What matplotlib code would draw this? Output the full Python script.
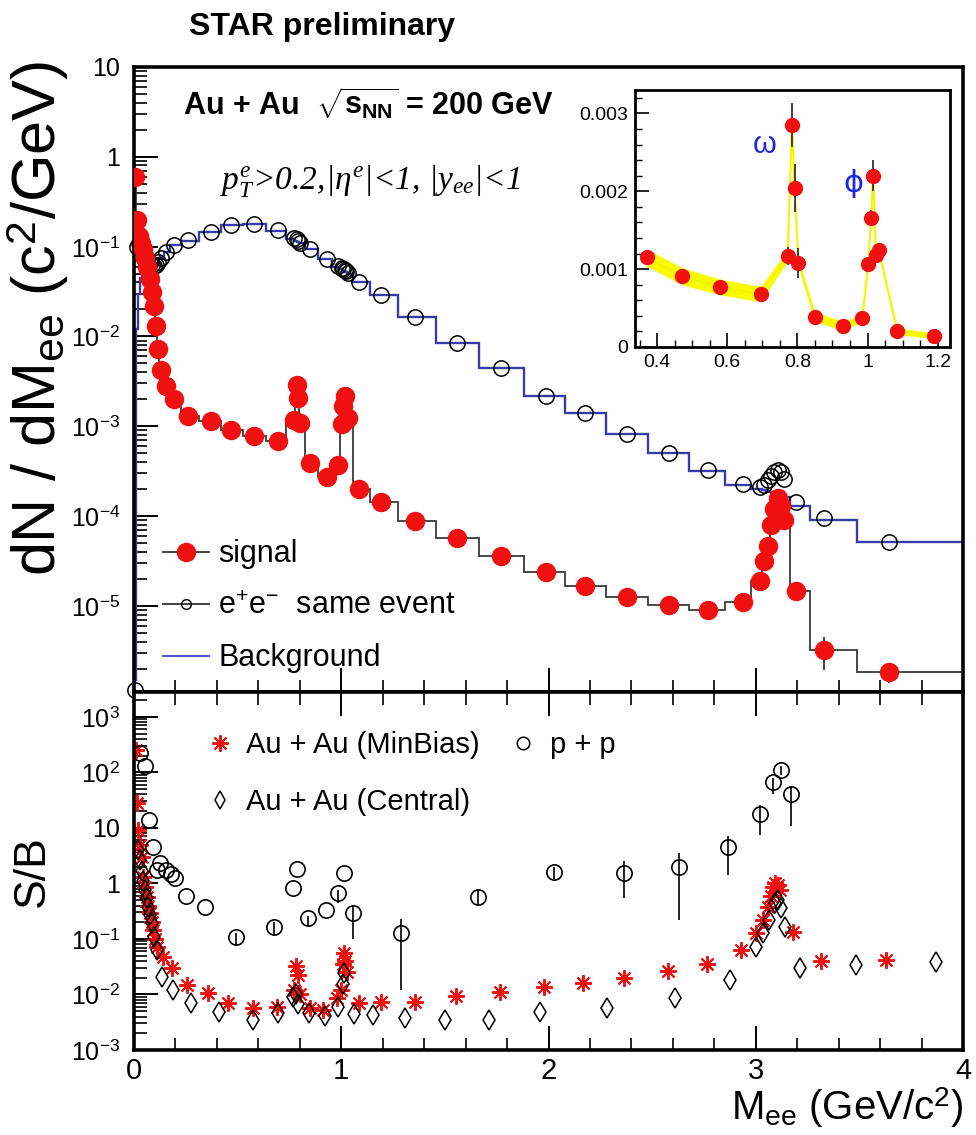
import matplotlib.pyplot as plt
import numpy as np
from matplotlib.lines import Line2D
from matplotlib.ticker import FuncFormatter, LogLocator, MultipleLocator, NullFormatter

plt.rcParams['font.family'] = ['Liberation Sans', 'DejaVu Sans']
plt.rcParams['mathtext.fontset'] = 'custom'
plt.rcParams['mathtext.rm'] = 'Liberation Sans'
plt.rcParams['mathtext.it'] = 'Liberation Serif:italic'
plt.rcParams['mathtext.bf'] = 'Liberation Sans:bold'

# --- dielectron mass spectrum (bin centres, GeV/c^2) ---
mass = [0.005, 0.015, 0.025, 0.035, 0.045, 0.055, 0.065, 0.075, 0.085, 0.095,
        0.105, 0.115, 0.13, 0.155, 0.195, 0.26, 0.37, 0.47, 0.58, 0.695,
        0.772, 0.785, 0.792, 0.803, 0.85, 0.93, 0.985, 1.002, 1.01, 1.016,
        1.024, 1.032, 1.085, 1.19, 1.355, 1.56, 1.773, 1.986, 2.175, 2.377,
        2.581, 2.771, 2.936, 3.02, 3.04, 3.06, 3.075, 3.09, 3.105, 3.12,
        3.135, 3.193, 3.33, 3.644]
signal = [0.6, 0.2, 0.13, 0.11, 0.095, 0.075, 0.06, 0.044, 0.031, 0.022,
          0.013, 0.0072, 0.0042, 0.0028, 0.002, 0.0013, 0.00115, 0.00091, 0.00077, 0.00068,
          0.00117, 0.00285, 0.00204, 0.00108, 0.00039, 0.00027, 0.00037, 0.00106, 0.00166, 0.0022,
          0.00118, 0.00124, 0.0002, 0.000145, 8.9e-5, 5.7e-5, 3.6e-5, 2.4e-5, 1.66e-5, 1.26e-5,
          1.03e-5, 9e-6, 1.1e-5, 1.9e-5, 3.2e-5, 4.7e-5, 8e-5, 1.2e-4, 1.6e-4, 1.3e-4,
          9e-5, 1.45e-5, 3.2e-6, 1.86e-6]
signal_relerr = [0.03, 0.03, 0.03, 0.03, 0.03, 0.03, 0.03, 0.03, 0.03, 0.03,
                 0.03, 0.03, 0.03, 0.03, 0.03, 0.03, 0.03, 0.03, 0.03, 0.03,
                 0.1, 0.1, 0.15, 0.18, 0.1, 0.12, 0.1, 0.08, 0.06, 0.09,
                 0.08, 0.06, 0.1, 0.1, 0.1, 0.1, 0.1, 0.1, 0.15, 0.15,
                 0.15, 0.15, 0.15, 0.1, 0.1, 0.1, 0.1, 0.1, 0.1, 0.1,
                 0.1, 0.15, 0.4, 0.25]
same_event = [1.15e-6, 0.1, 0.11, 0.1, 0.09, 0.08, 0.072, 0.066, 0.062, 0.061,
              0.063, 0.067, 0.075, 0.088, 0.104, 0.117, 0.146, 0.174, 0.18, 0.152,
              0.125, 0.12, 0.116, 0.11, 0.095, 0.073, 0.061, 0.058, 0.056, 0.055,
              0.053, 0.051, 0.04, 0.029, 0.0166, 0.0085, 0.0044, 0.0022, 0.0014, 0.00083,
              0.0005, 0.00033, 0.00023, 0.00021, 0.00022, 0.00025, 0.00028, 0.00031, 0.00033, 0.00031,
              0.00026, 0.000145, 9.5e-5, 5.1e-5]
background = [1.5e-6, 0.012, 0.03, 0.045, 0.052, 0.056, 0.058, 0.059, 0.06, 0.06,
              0.062, 0.066, 0.074, 0.087, 0.103, 0.116, 0.145, 0.173, 0.179, 0.151,
              0.123, 0.116, 0.113, 0.109, 0.095, 0.073, 0.06, 0.057, 0.054, 0.053,
              0.052, 0.05, 0.04, 0.029, 0.0165, 0.0085, 0.0044, 0.0022, 0.0014, 0.00082,
              0.0005, 0.00032, 0.00022, 0.0002, 0.000195, 0.00019, 0.000185, 0.00018, 0.000175, 0.00017,
              0.000165, 0.00013, 9e-5, 5.1e-5]
# systematic band shown in the inset (points 0.37 .. 1.19 GeV)
inset_sys = [1.1e-4, 1.1e-4, 1e-4, 1e-4, 7e-5, 2e-5, 2e-5, 5e-5, 6e-5, 6e-5,
             4e-5, 3e-5, 2e-5, 2e-5, 3e-5, 3e-5, 4e-5, 4e-5]

# --- signal / background ratio ---
mb_mass = [0.008, 0.015, 0.021, 0.029, 0.037, 0.045, 0.053, 0.061, 0.069, 0.077,
           0.085, 0.093, 0.1, 0.11, 0.141, 0.182, 0.257, 0.358, 0.455, 0.575,
           0.688, 0.77, 0.78, 0.79, 0.8, 0.849, 0.913, 0.978, 1.0, 1.01,
           1.015, 1.02, 1.03, 1.085, 1.192, 1.355, 1.553, 1.766, 1.976, 2.167,
           2.364, 2.577, 2.763, 2.927, 3.0, 3.033, 3.06, 3.075, 3.085, 3.095,
           3.105, 3.115, 3.18, 3.317, 3.628]
mb_sb = [250, 27.5, 9.1, 5.0, 3.0, 1.3, 0.85, 0.57, 0.4, 0.29,
         0.2, 0.145, 0.1, 0.072, 0.048, 0.03, 0.015, 0.0105, 0.0069, 0.0056,
         0.006, 0.012, 0.032, 0.022, 0.01, 0.0056, 0.0052, 0.0085, 0.012, 0.035,
         0.055, 0.04, 0.025, 0.0069, 0.0074, 0.0074, 0.0093, 0.011, 0.0138, 0.016,
         0.0195, 0.026, 0.035, 0.063, 0.126, 0.22, 0.38, 0.6, 0.87, 1.0,
         0.95, 0.75, 0.135, 0.04, 0.042]
cen_mass = [0.021, 0.029, 0.037, 0.045, 0.053, 0.061, 0.069, 0.077, 0.085, 0.095,
            0.11, 0.137, 0.19, 0.273, 0.411, 0.573, 0.693, 0.768, 0.78, 0.793,
            0.845, 0.921, 0.983, 1.007, 1.015, 1.06, 1.151, 1.307, 1.5, 1.712,
            1.96, 2.28, 2.61, 2.878, 3.0, 3.033, 3.065, 3.092, 3.108, 3.124,
            3.14, 3.213, 3.483, 3.869]
cen_sb = [4.0, 2.6, 1.7, 1.1, 0.76, 0.55, 0.38, 0.27, 0.19, 0.11,
          0.063, 0.021, 0.012, 0.0069, 0.0049, 0.0035, 0.0046, 0.009, 0.01, 0.0067,
          0.0046, 0.0041, 0.006, 0.0155, 0.024, 0.0045, 0.0042, 0.0037, 0.0034, 0.0035,
          0.0049, 0.0056, 0.0085, 0.018, 0.072, 0.126, 0.22, 0.44, 0.5, 0.355,
          0.165, 0.03, 0.034, 0.039]
pp_mass = [0.029, 0.053, 0.074, 0.09, 0.11, 0.125, 0.154, 0.18, 0.198, 0.25,
           0.343, 0.492, 0.675, 0.765, 0.785, 0.84, 0.926, 0.986, 1.013, 1.056,
           1.29, 1.66, 2.026, 2.364, 2.63, 2.867, 3.02, 3.084, 3.12, 3.168]
pp_sb = [221, 132, 13.8, 4.6, 1.75, 2.3, 1.75, 1.5, 1.24, 0.59,
         0.38, 0.11, 0.166, 0.82, 1.8, 0.236, 0.33, 0.66, 1.56, 0.29,
         0.126, 0.58, 1.63, 1.56, 1.95, 4.6, 17.9, 68, 110, 41]
pp_lo = [221, 132, 13.8, 4.6, 1.75, 2.3, 1.75, 1.5, 1.24, 0.59,
         0.38, 0.075, 0.12, 0.82, 1.8, 0.17, 0.33, 0.45, 1.56, 0.1,
         0.012, 0.4, 1.2, 0.55, 0.22, 1.4, 7.4, 40, 90, 11]
pp_hi = [221, 132, 13.8, 4.6, 1.75, 2.3, 1.75, 1.5, 1.24, 0.59,
         0.38, 0.13, 0.2, 0.82, 1.8, 0.26, 0.33, 0.75, 1.56, 0.4,
         0.23, 0.75, 2.0, 2.5, 3.5, 7.0, 26, 80, 130, 55]

m = np.array(mass)
sig = np.array(signal)
sig_err = sig * np.array(signal_relerr)
edges = np.concatenate([[0.0], (m[1:] + m[:-1]) / 2, [4.0]])


def log_label(v, pos):
    e = int(round(np.log10(v)))
    if e == 0:
        return '1'
    if e == 1:
        return '10'
    return r'$10^{%d}$' % e


def style_axis(a, top_ticks, decades):
    for s in a.spines.values():
        s.set_linewidth(2.6)
    a.set_yscale('log')
    a.set_yticks(10.0 ** np.array(decades))
    a.yaxis.set_major_formatter(FuncFormatter(log_label))
    a.yaxis.set_minor_locator(LogLocator(subs=np.arange(2, 10), numticks=20))
    a.yaxis.set_minor_formatter(NullFormatter())
    a.xaxis.set_major_locator(MultipleLocator(1))
    a.xaxis.set_minor_locator(MultipleLocator(0.2))
    a.tick_params(which='both', direction='in', left=True, right=False,
                  bottom=True, top=top_ticks, labelsize=18, pad=10)
    a.tick_params(which='major', length=17, width=1.4)
    a.tick_params(which='minor', length=9, width=1.2)


fig = plt.figure(figsize=(9.76, 11.35), dpi=100)
ax = fig.add_axes([0.1373, 0.3903, 0.8494, 0.5507])
ax2 = fig.add_axes([0.1373, 0.0749, 0.8494, 0.3154], sharex=ax)

# ---------------- top panel ----------------
ax.stairs(background, edges, color='#3b3ba6', lw=1.7, baseline=1e-7, zorder=2)
ax.stairs(signal, edges, color='#3a3a3a', lw=1.3, baseline=None, zorder=2)
ax.plot(mass, same_event, 'o', mfc='none', mec='black', ms=11, mew=1.1,
        zorder=3, clip_on=False)
ax.errorbar(mass, signal, yerr=sig_err, fmt='o', color='#f01010', ms=13,
            ecolor='#222222', elinewidth=1.2, capsize=0, zorder=4)
ax.set_xlim(0, 4)
style_axis(ax, False, range(-5, 2))
ax.set_ylim(1.1e-6, 10)
ax.tick_params(labelbottom=False)
ax.set_ylabel(r'dN / dM$_{\mathrm{ee}}$ (c$^{2}$/GeV)', fontsize=44, loc='top')
ax.yaxis.set_label_coords(-0.076, 1.01)

ax.text(0.059, 0.942, r'Au + Au  $\sqrt{\mathbf{s}_{\mathbf{NN}}}$ = 200 GeV',
        transform=ax.transAxes, fontsize=22, fontweight='bold', va='center')
ax.text(0.104, 0.818, r'$p_T^e$>0.2,|$\eta^e$|<1, |$y_{ee}$|<1',
        transform=ax.transAxes, fontsize=24, va='center',
        family='Liberation Serif', style='italic')

handles = [Line2D([], [], color='#333333', lw=1.3, marker='o', mfc='#f01010', mec='#f01010', ms=13),
           Line2D([], [], color='#333333', lw=1.3, marker='o', mfc='none', mec='black', ms=7),
           Line2D([], [], color='#5555cc', lw=1.5)]
ax.legend(handles, ['signal', r'e$^{+}$e$^{-}$  same event', 'Background'],
          loc='upper left', bbox_to_anchor=(0.035, 0.244), frameon=False,
          fontsize=22, handlelength=1.5, handletextpad=0.3, labelspacing=0.72,
          borderpad=0, borderaxespad=0)

# inset
axin = fig.add_axes([0.6506, 0.6943, 0.3227, 0.2264])
sel = slice(16, 34)
xi, yi, ei = m[sel], sig[sel], sig_err[sel]
band = np.array(inset_sys)
axin.fill_between(xi, yi - band, yi + band, color='#fafa00', lw=0, zorder=1)
axin.plot(xi, yi, color='#f5f500', lw=1.5, zorder=1)
axin.errorbar(xi, yi, yerr=ei, fmt='o', color='#f01010', ms=10,
              ecolor='#222222', elinewidth=1.2, capsize=0, zorder=3)
axin.set_xlim(0.337, 1.235)
axin.set_ylim(0, 0.0033)
for s in axin.spines.values():
    s.set_linewidth(2)
axin.xaxis.set_major_locator(MultipleLocator(0.2))
axin.xaxis.set_minor_locator(MultipleLocator(0.05))
axin.yaxis.set_major_locator(MultipleLocator(0.001))
axin.yaxis.set_minor_locator(MultipleLocator(0.0002))
axin.xaxis.set_major_formatter(FuncFormatter(lambda v, p: '%g' % round(v, 2)))
axin.yaxis.set_major_formatter(FuncFormatter(lambda v, p: '0' if abs(v) < 1e-9 else '%.3f' % v))
axin.tick_params(which='both', direction='in', top=False, right=False, labelsize=14, pad=5)
axin.tick_params(which='major', length=10, width=1.2)
axin.tick_params(which='minor', length=5, width=1)
axin.text(0.708, 0.0026, 'ω', color='#1e28dc', fontsize=22, ha='center', va='center')
axin.text(0.959, 0.0021, 'ϕ', color='#1e28dc', fontsize=22, ha='center', va='center',
          family=['DejaVu Sans'])

# ---------------- bottom panel ----------------
ax2.plot(mb_mass, mb_sb, ls='none', marker=(8, 2, 0), color='#f01010', ms=12,
         mew=1.4, zorder=2)
ax2.plot(cen_mass, cen_sb, ls='none', marker='d', mfc='none', mec='black', ms=10,
         mew=1.1, zorder=3)
pp = np.array(pp_sb)
pp_err = [pp - np.array(pp_lo), np.array(pp_hi) - pp]
ax2.errorbar(pp_mass, pp_sb, yerr=pp_err, fmt='o', mfc='none', mec='black', ms=11,
             mew=1.2, ecolor='black', elinewidth=1.2, capsize=0, zorder=3)
style_axis(ax2, True, range(-3, 4))
ax2.set_ylim(1e-3, 2.8e3)
ax2.tick_params(labelsize=18)
ax2.tick_params(axis='x', labelsize=21, pad=5)
ax2.set_ylabel('S/B', fontsize=32)
ax2.yaxis.set_label_coords(-0.098, 0.5)
ax2.set_xlabel(r'M$_{\mathrm{ee}}$ (GeV/c$^{2}$)', fontsize=29, ha='right')
ax2.xaxis.set_label_coords(1.0, -0.097)
ax2.xaxis.label.set_va('top')

leg_handles = [Line2D([], [], ls='none', marker=(8, 2, 0), color='#f01010', ms=12, mew=1.4),
               Line2D([], [], ls='none', marker='d', mfc='none', mec='black', ms=9, mew=1.1),
               Line2D([], [], ls='none', marker='o', mfc='none', mec='black', ms=9, mew=1.1)]
ax2.legend(leg_handles, ['Au + Au (MinBias)', 'Au + Au (Central)', 'p + p'],
           ncol=2, loc='upper left', bbox_to_anchor=(0.0857, 0.89), frameon=False,
           fontsize=21, handlelength=1.0, handletextpad=0.4, labelspacing=0.98,
           columnspacing=1.0, borderpad=0, borderaxespad=0)

fig.text(322 / 976, 1 - 27 / 1135, 'STAR preliminary', ha='center', va='center',
         fontsize=23, fontweight='bold')

fig.savefig('out.png', dpi=100)
